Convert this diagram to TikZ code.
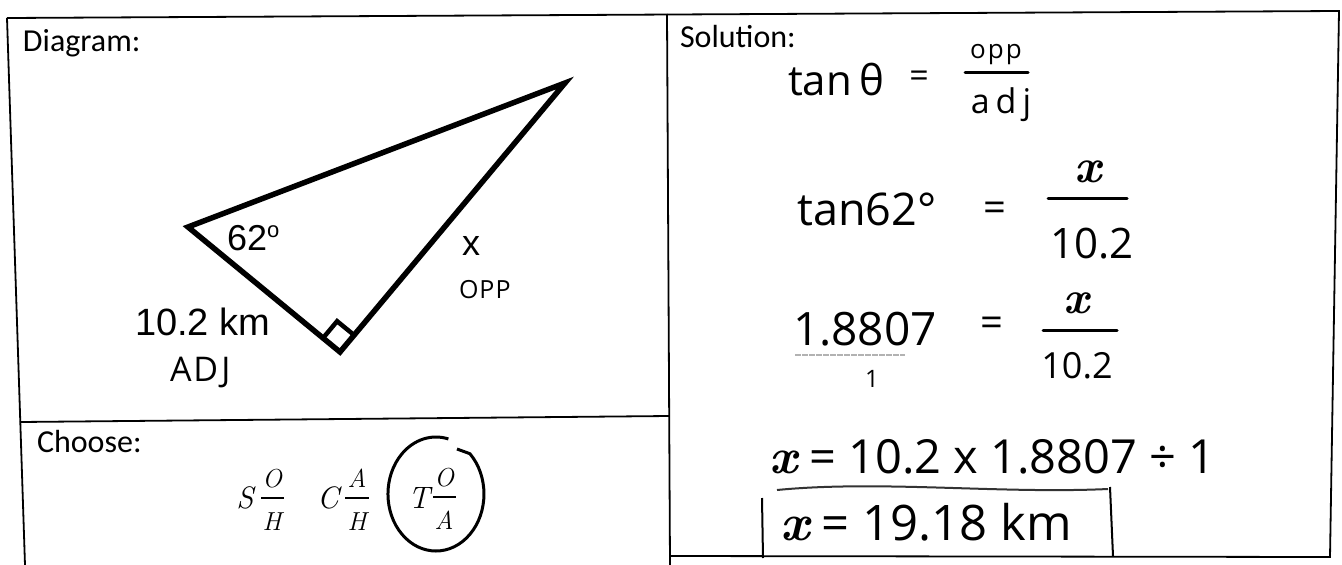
\documentclass[tikz,border=0pt]{standalone}
\usepackage{fontspec}
\newfontfamily\calib{Carlito}
\newfontfamily\arialf{Liberation Sans}
\newfontfamily\hand{Open Sans}
\newfontfamily\lmit{Latin Modern Roman}
\newcommand\myfs[1]{\fontsize{#1}{#1}\selectfont}
\begin{document}
\begin{tikzpicture}[x=1pt,y=-1pt,
  every node/.style={inner sep=0pt, outer sep=0pt},
  frame/.style={line width=1.8pt},
  tri/.style={line width=5.5pt, line join=miter},
  lbl/.style={font=\calib\myfs{32}, anchor=base west},
  arl/.style={font=\arialf\myfs{#1}},
  hw/.style={font=\hand\myfs{#1}},
  ml/.style={font=\lmit\itshape\myfs{#1}, anchor=base},
  hx/.style={font=\lmit\bfseries\itshape\myfs{#1}, anchor=base},
  fbar/.style={line width=3pt, line cap=round},
  mbar/.style={line width=1.5pt},
  pen/.style={line width=3pt}]
\useasboundingbox (0,0) rectangle (1342,565);
% frame
\draw[frame] (7,18) -- (1339,11) -- (1330,557) -- (669,556);
\draw[frame] (7,18) -- (25,565);
\draw[frame] (667,14) -- (670,565);
\draw[frame] (20,422) -- (669,416);
% headings
\node[lbl] (diag) at (23,51) {Diagram:};
\node[lbl] (choose) at (37,452) {Choose:};
\node[lbl] (sol) at (680,47) {Solution:};
% triangle
\coordinate (L) at (188,227);
\coordinate (T) at (565,83);
\coordinate (R) at (340,352);
\draw[tri] (L) -- (T) -- (R) -- cycle;
\draw[line width=4.5pt, line join=miter] (323,338.1) -- (337.1,321.2) -- (354.1,335.1);
\node[arl=36, anchor=base west] (ang) at (227,250) {62\raisebox{13pt}{\myfs{22}o}};
\node[arl=36, anchor=base west] (xl) at (462,255) {x};
\node[hw=25, anchor=base west] (opp) at (459,298) {O\hspace{1pt}P\hspace{1pt}P};
\node[arl=38, anchor=base west] (adjl) at (135,335) {10.2 km};
\node[hw=34, anchor=base west] (adjt) at (170,381) {A\hspace{2pt}D\hspace{3pt}J};
% choose
\node[ml=31] (s) at (245,508) {S};
\node[ml=26] (sn) at (272,487) {O};
\draw[mbar] (261,498) -- (284,498);
\node[ml=26] (sd) at (272,530) {H};
\node[ml=31] (c) at (328,508) {C};
\node[ml=26] (cn) at (357,487) {A};
\draw[mbar] (345,498) -- (369,498);
\node[ml=26] (cd) at (357,530) {H};
\node[ml=31] (t) at (419,508) {T};
\node[ml=26] (tn) at (444,486) {O};
\draw[mbar] (433,497) -- (456,497);
\node[ml=26] (td) at (444,529) {A};
\draw[pen, line join=round] (457,449) -- (469.9,453.7) arc[start angle=-45, end angle=285, x radius=48, y radius=57];
% row 1
\node[hw=42, anchor=base] (tanth) at (836,95) {tan\,θ};
\node[hw=34] (eq1) at (919,79) {=};
\node[hw=26, anchor=base] (n1) at (996,58) {o\hspace{2pt}p\hspace{2pt}p};
\draw[fbar] (965,72) -- (1028,72);
\node[hw=34, anchor=base] (d1) at (1001,113) {a\hspace{6pt}d\hspace{6pt}j};
% row 2
\node[hw=45, anchor=base] (tan62) at (867,225) {tan62°};
\node[hw=40] (eq2) at (995,212) {=};
\node[hx=48] (x2) at (1088,182) {x};
\draw[fbar] (1048,198) -- (1127,198);
\node[hw=42, anchor=base] (d2) at (1092,258) {10.2};
% row 3
\node[hw=46, anchor=base] (v3) at (865,345) {1.8807};
\draw[line width=1.5pt, gray!60, dash pattern=on 6pt off 1pt] (795,355) -- (905,355);
\node[hw=24, anchor=base] (one3) at (872,387) {1};
\node[hw=40] (eq3) at (992,327) {=};
\node[hx=46] (x3) at (1076,313) {x};
\draw[fbar] (1043,330) -- (1117,330);
\node[hw=36, anchor=base] (d3) at (1077,378) {10.2};
% row 4
\node[hw=47, anchor=base west] (r4) at (769,473) {{\lmit\bfseries\itshape\myfs{50}x} = 10.2 x 1.8807 ÷ 1};
% row 5
\draw[line width=2pt, black!80] (777,490) .. controls (880,480) and (1000,494) .. (1108,489);
\draw[line width=2pt] (762,498) -- (763,558);
\draw[line width=2pt] (1110,487) -- (1113,556);
\node[hw=49, anchor=base west] (r5) at (780,540) {{\lmit\bfseries\itshape\myfs{52}x} = 19.18 km};
\end{tikzpicture}
\end{document}
